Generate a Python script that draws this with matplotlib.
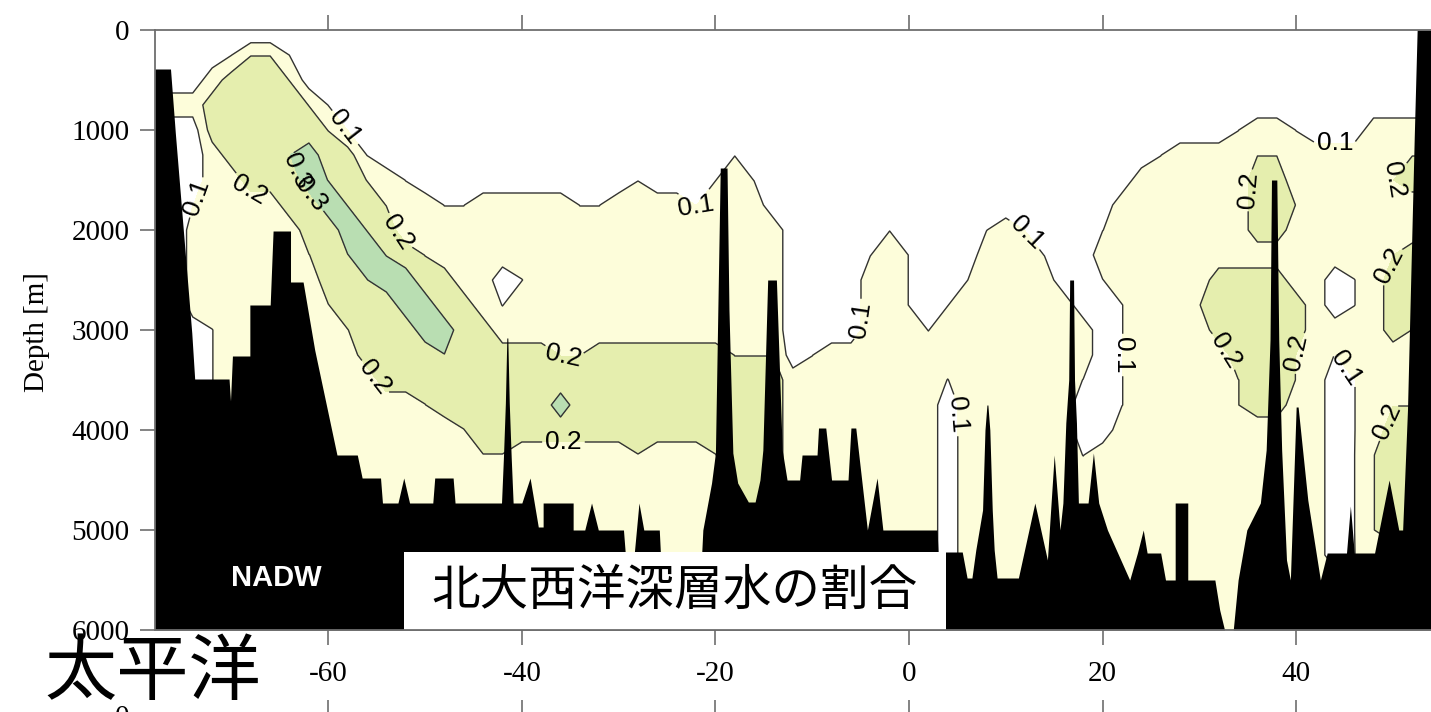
import numpy as np
import matplotlib
matplotlib.use("Agg")
import matplotlib.pyplot as plt
from matplotlib.patches import Rectangle

plt.rcParams['font.family'] = ['Liberation Sans', 'Noto Sans CJK JP', 'DejaVu Sans']

# ---------------- data ----------------
latitudes = np.arange(-78, 55, 2)          # grid columns (deg)
depths = np.arange(0, 6001, 250)           # grid rows (m)

# NADW fraction, one string per depth row.
# each digit d -> fraction d/20 (1 ~ <0.1, 3 ~ 0.1-0.2, 5 ~ 0.2-0.3, 7 ~ >0.3)
nadw_rows = [
    "1111000001 1111111111 1111111111 1111111111 1111111111 1111111111 1111111",  # 0
    "1111244211 1111111111 1111111111 1111111111 1111111111 1111111111 1111111",  # 250
    "1113555411 1111111111 1111111111 1111111111 1111111111 1111111111 1111111",  # 500
    "3335555542 1111111111 1111111111 1111111111 1111111111 1111111111 1111111",  # 750
    "1115555554 2111111111 1111111111 1111111111 1111111111 1111112332 1113333",  # 1000
    "1113555675 5211111111 1111111111 2111111111 1111111111 1123333443 3333344",  # 1250
    "1113355576 5432111111 1111121112 3211111111 1111111111 1333333553 3333455",  # 1500
    "0023333557 6543322333 3322333323 3311111111 1111111111 3333333554 3333333",  # 1750
    "0033333355 7653333333 3333333333 3331111121 1112321112 3333333553 3333333",  # 2000
    "0033333345 6765433333 3333333333 3331111232 1113332113 3333333333 3333455",  # 2250
    "0033333335 5677553312 3333333333 3331111332 1123333112 3333355553 3123555",  # 2500
    "0033333334 5557755323 3333333333 3331111332 1233333311 2333455555 3123555",  # 2750
    "0012333333 4555775533 3333333333 3331111333 2333333331 2333355555 3333544",  # 3000
    "0012333333 3555565555 5445555555 4441233333 3333333331 2333335554 3233333",  # 3250
    "0012333333 3355555555 5555555555 5553333333 3233333321 2333334554 3123444",  # 3500
    "0033333333 3333455555 5755555555 5553333333 3133333311 2333334553 3123444",  # 3750
    "0033333333 3333334555 5555555555 5553333333 3133333311 3333333333 3123555",  # 4000
    "0033333333 3333333443 3333343334 5553333333 3133333323 3333333333 3124555",  # 4250
    "0033333333 3333333333 3333333333 5553333333 3133333333 3333333333 3124555",  # 4500
    "0033333333 3333333333 3333333333 5553333333 3133333333 3333333333 3124555",  # 4750
    "0033333333 3333333333 3333333333 3333333333 3133333333 3333333333 3124555",  # 5000
    "0033333333 3333333333 3333333333 3333333333 3133333333 3333333333 3123333",  # 5250
    "0033333333 3333333333 3333333333 3333333333 3333333333 3333333333 3333333",  # 5500
    "0033333333 3333333333 3333333333 3333333333 3333333333 3333333333 3333333",  # 5750
    "0033333333 3333333333 3333333333 3333333333 3333333333 3333333333 3333333",  # 6000
]

contour_levels = [0.1, 0.2, 0.3]
fill_colors = ['#FFFFFF', '#FDFDDA', '#E5EEAE', '#B9DEB2']

# sea floor profile (lat, depth in m)
seafloor = [
    (-80.0, 390), (-76.3, 390), (-75.8, 1030), (-74.1, 3030), (-73.8, 3490),
    (-70.25, 3490), (-70.1, 3710), (-69.9, 3260), (-68.1, 3260), (-68.1, 2750),
    (-66.0, 2750), (-65.7, 2010), (-63.9, 2010), (-63.9, 2520), (-62.6, 2520),
    (-61.4, 3200), (-59.1, 4250), (-57.0, 4250), (-56.5, 4480), (-54.6, 4480),
    (-54.4, 4730), (-52.8, 4730), (-52.2, 4480), (-51.6, 4730), (-49.2, 4730),
    (-49.0, 4480), (-47.1, 4480), (-46.9, 4730), (-42.1, 4730), (-42.0, 4500),
    (-41.9, 4270), (-41.7, 3730), (-41.55, 3080), (-41.45, 3080), (-41.3, 3730),
    (-41.1, 4270), (-41.0, 4500), (-40.9, 4730), (-40.0, 4730), (-39.15, 4480),
    (-38.3, 4970), (-37.8, 4970), (-37.8, 4730), (-34.7, 4730), (-34.7, 5000),
    (-33.5, 5000), (-32.8, 4730), (-32.1, 5000), (-29.5, 5000), (-29.3, 5250),
    (-28.4, 5250), (-27.9, 4730), (-27.4, 5000), (-25.8, 5000), (-25.5, 5600),
    (-21.6, 5600), (-21.3, 5000), (-20.4, 4530), (-20.0, 4230), (-19.75, 2800),
    (-19.5, 1380), (-18.8, 1380), (-18.6, 2800), (-18.2, 4230), (-17.7, 4530),
    (-16.6, 4720), (-15.9, 4720), (-15.4, 4500), (-15.1, 4200), (-14.6, 2500),
    (-13.7, 2500), (-13.1, 4200), (-12.6, 4500), (-11.3, 4500), (-11.05, 4250),
    (-9.5, 4250), (-9.35, 3980), (-8.6, 3980), (-8.0, 4500), (-6.3, 4500),
    (-6.0, 3980), (-5.5, 3980), (-4.3, 5000), (-3.3, 4480), (-2.7, 5000),
    (2.9, 5000), (3.0, 5220), (5.5, 5220), (6.0, 5480), (6.5, 5480),
    (6.9, 5200), (7.6, 4800), (7.85, 4000), (8.05, 3750), (8.15, 3750),
    (8.35, 4000), (8.6, 4800), (8.8, 5200), (9.1, 5480), (11.3, 5480),
    (13.0, 4730), (14.3, 5300), (15.0, 4250), (15.6, 5000), (15.9, 4730),
    (16.2, 3930), (16.5, 3500), (16.6, 2500), (17.0, 2500), (17.1, 3500),
    (17.3, 3930), (17.5, 4730), (18.5, 4730), (19.05, 4230), (19.6, 4730),
    (20.5, 5000), (22.8, 5500), (23.6, 5230), (24.2, 5000), (24.6, 5230),
    (26.0, 5230), (26.5, 5500), (27.5, 5500), (27.5, 4730), (28.8, 4730),
    (28.8, 5500), (31.6, 5500), (32.1, 5800), (32.6, 6000), (33.5, 6000),
    (34.0, 5500), (34.9, 5000), (36.3, 4730), (36.9, 4200), (37.3, 3100),
    (37.45, 1500), (38.0, 1500), (38.2, 3100), (38.5, 4200), (39.0, 5300),
    (39.4, 5500), (40.0, 3770), (40.2, 3770), (41.2, 4700), (42.5, 5500),
    (43.2, 5230), (45.2, 5230), (45.6, 4760), (46.0, 5230), (48.1, 5230),
    (49.6, 4500), (50.6, 5000), (51.0, 5000), (51.5, 3800), (52.2, 1070),
    (52.5, 0), (56.0, 0),
]

label_pos = {
    0.1: [(-58.6, 1000), (-74.3, 1650), (-22.0, 1950), (-4.8, 2900),
          (12.5, 2000), (21.5, 3250), (5.3, 3850), (44.0, 1150), (45.0, 3400)],
    0.2: [(-67.9, 1580), (-52.8, 2020), (-54.6, 3430), (-35.7, 3300),
          (-35.7, 4130), (35.0, 1600), (32.5, 3220), (39.8, 3220),
          (49.5, 1460), (48.8, 2320), (48.6, 3880)],
    0.3: [(-63.0, 1400), (-61.3, 1600)],
}

xticks = [-60, -40, -20, 0, 20, 40]
yticks = [0, 1000, 2000, 3000, 4000, 5000, 6000]
title_text = "北大西洋深層水の割合"
side_text = "太平洋"
water_label = "NADW"

# ---------------- figure ----------------
frac = np.array([[int(c) / 20.0 - 0.002 for c in r.replace(" ", "")] for r in nadw_rows])
sea_lat = [p[0] for p in seafloor]
sea_dep = [p[1] for p in seafloor]

W, H = 1431, 712
fig = plt.figure(figsize=(W / 100, H / 100), dpi=100)
fig.patch.set_facecolor('white')

ax = fig.add_axes([155 / W, 1 - 630 / H, 1276 / W, 600 / H])
ax.contourf(latitudes, depths, frac, levels=[-1] + contour_levels + [1],
            colors=fill_colors, zorder=1)
ax.set_xlim(-77.9, 53.93)
ax.set_ylim(6000, 0)

for lev in contour_levels:
    cs = ax.contour(latitudes, depths, frac, levels=[lev],
                    colors='#333333', linewidths=1.0, zorder=1.5)
    cs.clabel(manual=label_pos[lev], inline=True, fmt='%.1f',
              fontsize=19, inline_spacing=3)
    for t in cs.labelTexts:
        t.set_color('black')
        t.set_zorder(2.2)

ax.fill_between(sea_lat, sea_dep, 6000, color='black', linewidth=0, zorder=2)

# text box
ax.add_patch(Rectangle((-52.17, 5220), 3.82 + 52.17, 780, facecolor='white',
                       edgecolor='none', zorder=2.4))
ax.text(-24.2, 5610, title_text, fontsize=35, family=['Noto Sans CJK JP'],
        ha='center', va='center', zorder=5)
ax.text(-65.4, 5485, water_label, fontsize=21, fontweight='bold',
        family=['Liberation Sans'], color='white', ha='center', va='center', zorder=5)

serif = ['Liberation Serif', 'DejaVu Serif']
ax.set_xticks(xticks)
ax.set_yticks(yticks)
ax.set_xticklabels([str(v) for v in xticks], family=serif, fontsize=21)
ax.set_yticklabels([str(v) for v in yticks], family=serif, fontsize=21)
ax.tick_params(axis='x', top=True, bottom=True, labeltop=False, direction='out',
               length=10.5, width=1.2, color='#6e6e6e', pad=12)
ax.tick_params(axis='y', left=True, right=False, direction='out',
               length=10.5, width=1.2, color='#6e6e6e', pad=8)
for side in ['top', 'left', 'bottom']:
    ax.spines[side].set_color('#6e6e6e')
    ax.spines[side].set_linewidth(1.3)
ax.spines['right'].set_visible(False)

fig.text(37 / W, 1 - 332 / H, 'Depth [m]', rotation=90, family=serif, fontsize=21,
         ha='center', va='center')

# second (lower) panel, mostly outside the picture
ax2 = fig.add_axes([155 / W, -0.6, 1276 / W, 0.6 - 3 / H])
ax2.set_xlim(-77.9, 53.93)
ax2.set_ylim(6000, 0)
ax2.set_xticks(xticks)
ax2.set_yticks(yticks)
ax2.set_xticklabels([])
ax2.set_yticklabels([str(v) for v in yticks], family=serif, fontsize=21)
ax2.tick_params(axis='x', top=True, bottom=False, labeltop=False, labelbottom=False,
                direction='out', length=10.5, width=1.2, color='#6e6e6e')
ax2.tick_params(axis='y', direction='out', length=10.5, width=1.2, color='#6e6e6e', pad=8)
for side in ['right', 'bottom']:
    ax2.spines[side].set_visible(False)
for side in ['top', 'left']:
    ax2.spines[side].set_color('#6e6e6e')

fig.text(153 / W, 1 - 674 / H, side_text, fontsize=52, family=['Noto Sans CJK JP'],
         ha='center', va='center', zorder=10)

fig.savefig('out.png', dpi=100)
